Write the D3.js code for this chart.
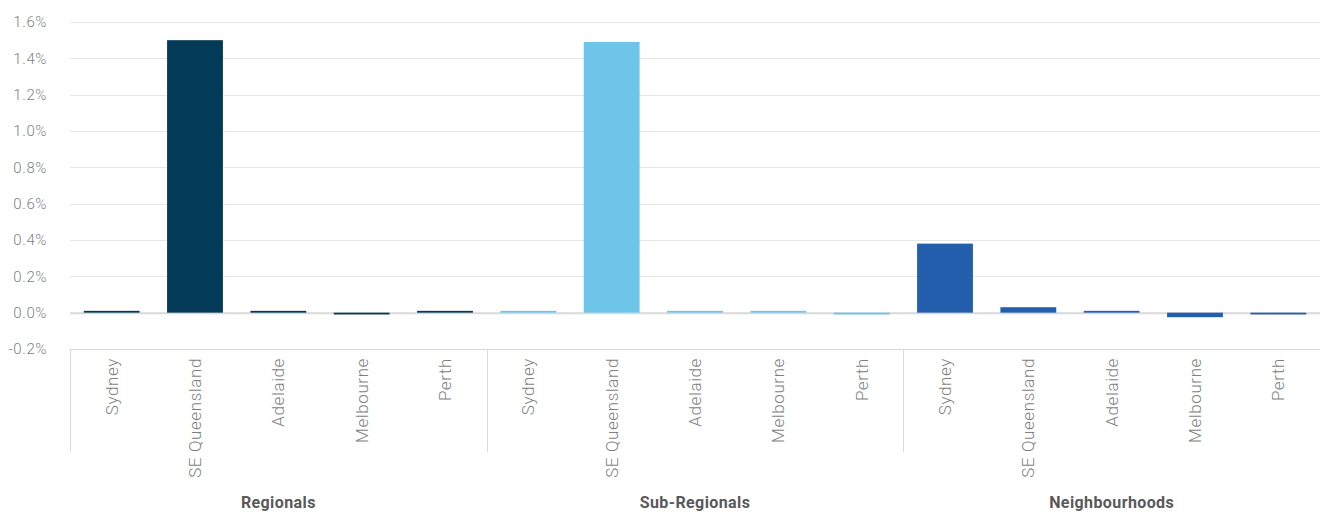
<!DOCTYPE html>
<html>
<head>
<meta charset="utf-8">
<script src="https://cdn.jsdelivr.net/npm/d3@7"></script>
<style>
    body { margin: 0; background: #fff; }
    svg { display: block; font-family: Roboto, "DejaVu Sans", sans-serif; }
</style>
</head>
<body>
<div id="chart"></div>
<script>
// values in %
const groups = ['Regionals', 'Sub-Regionals', 'Neighbourhoods']
const cities = ['Sydney', 'SE Queensland', 'Adelaide', 'Melbourne', 'Perth']
const regionals = [0.01, 1.50, 0.01, -0.01, 0.01]
const subRegionals = [0.01, 1.49, 0.01, 0.01, -0.01]
const neighbourhoods = [0.38, 0.03, 0.01, -0.025, -0.01]
const yTicks = [-0.2, 0, 0.2, 0.4, 0.6, 0.8, 1.0, 1.2, 1.4, 1.6]
const colors = ['#033a57', '#6dc5e9', '#235fac']

const series = [regionals, subRegionals, neighbourhoods]

const width = 1320
const height = 512
const plotLeft = 70
const plotRight = 1320
const plotTop = 22
const plotBottom = 349
const axisBottom = 452

const svg = d3.select('#chart').append('svg')
    .attr('width', width)
    .attr('height', height)

const y = d3.scaleLinear()
    .domain([-0.2, 1.6])
    .range([plotBottom, plotTop])

const x0 = d3.scaleBand()
    .domain(groups)
    .range([plotLeft, plotRight])

const x1 = d3.scaleBand()
    .domain(cities)
    .range([0, x0.bandwidth()])
    .paddingInner(0.33)
    .paddingOuter(0.165)

// gridlines
svg.append('g').selectAll('line')
    .data(yTicks.filter(d => d !== 0))
    .enter()
    .append('line')
    .attr('x1', plotLeft)
    .attr('x2', plotRight)
    .attr('y1', d => Math.round(y(d)) + 0.5)
    .attr('y2', d => Math.round(y(d)) + 0.5)
    .attr('stroke', '#e6e6e6')
    .attr('stroke-width', 1)

// tick labels
svg.append('g').selectAll('text')
    .data(yTicks)
    .enter()
    .append('text')
    .attr('x', 47)
    .attr('y', d => y(d))
    .attr('dy', '0.35em')
    .attr('text-anchor', 'end')
    .attr('font-size', 15)
    .attr('font-weight', 300)
    .attr('letter-spacing', 0.6)
    .attr('fill', '#7f7f7f')
    .text(d => d.toFixed(1) + '%')

// zero line
svg.append('line')
    .attr('x1', plotLeft)
    .attr('x2', plotRight)
    .attr('y1', y(0) + 0.5)
    .attr('y2', y(0) + 0.5)
    .attr('stroke', '#d9d9d9')
    .attr('stroke-width', 2)

// bars
const groupG = svg.append('g').selectAll('g')
    .data(groups)
    .enter()
    .append('g')
    .attr('transform', d => `translate(${ x0(d) }, 0)`)

groupG.selectAll('rect')
    .data((g, gi) => cities.map((c, i) => ({ city: c, value: series[gi][i], gi })))
    .enter()
    .append('rect')
    .attr('x', d => x1(d.city))
    .attr('width', x1.bandwidth())
    .attr('y', d => y(Math.max(0, d.value)))
    .attr('height', d => Math.abs(y(d.value) - y(0)))
    .attr('fill', d => colors[d.gi])

// category axis box
const axisG = svg.append('g')
axisG.append('line')
    .attr('x1', plotLeft)
    .attr('x2', plotRight)
    .attr('y1', plotBottom + 0.5)
    .attr('y2', plotBottom + 0.5)
    .attr('stroke', '#d9d9d9')

axisG.selectAll('line.sep')
    .data(groups.concat(['end']))
    .enter()
    .append('line')
    .attr('class', 'sep')
    .attr('x1', (d, i) => Math.round(plotLeft + i * x0.bandwidth()) + 0.5)
    .attr('x2', (d, i) => Math.round(plotLeft + i * x0.bandwidth()) + 0.5)
    .attr('y1', plotBottom)
    .attr('y2', axisBottom)
    .attr('stroke', '#d9d9d9')

groupG.selectAll('text.city')
    .data(cities)
    .enter()
    .append('text')
    .attr('class', 'city')
    .attr('transform', d => `translate(${ x1(d) + x1.bandwidth() / 2 }, 358) rotate(-90)`)
    .attr('dy', '0.35em')
    .attr('text-anchor', 'end')
    .attr('font-size', 17)
    .attr('font-weight', 300)
    .attr('letter-spacing', 0.6)
    .attr('fill', '#7f7f7f')
    .text(d => d)

groupG.append('text')
    .attr('x', x0.bandwidth() / 2)
    .attr('y', 508)
    .attr('text-anchor', 'middle')
    .attr('font-size', 16)
    .attr('font-weight', 700)
    .attr('letter-spacing', 0.4)
    .attr('fill', '#595959')
    .text(d => d)
</script>
</body>
</html>
